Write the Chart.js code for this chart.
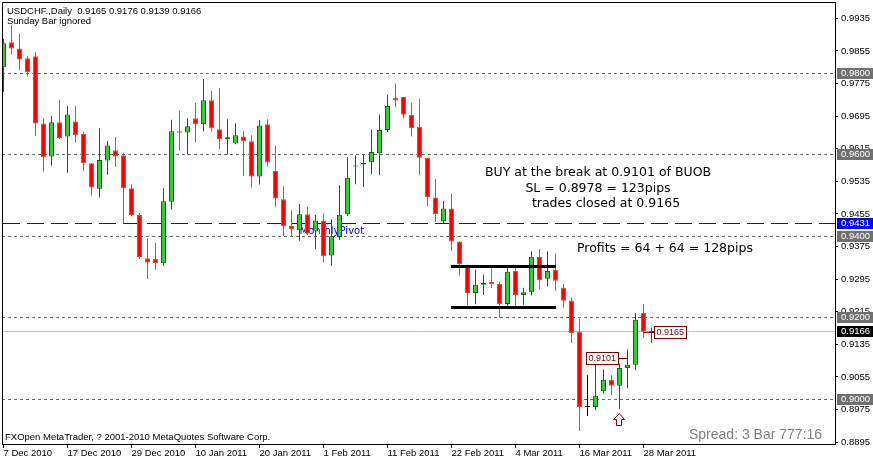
<!DOCTYPE html>
<html><head><meta charset="utf-8">
<script src="https://cdn.jsdelivr.net/npm/chart.js@4/dist/chart.umd.min.js"></script>
<style>html,body{margin:0;padding:0;background:#fff;overflow:hidden}canvas{display:block}</style>
</head><body>
<canvas id="c" width="873" height="461"></canvas>
<script>
// ---- data (USDCHF daily, 7 Dec 2010 .. 29 Mar 2011) ----
const opens  = [0.9815,0.9876,0.9861,0.9837,0.9842,0.9677,0.9596,0.9680,0.9645,0.9682,
                0.9651,0.9579,0.9517,0.9586,0.9611,0.9599,0.9518,0.9452,0.9346,0.9344,
                0.9334,0.9485,0.9658,0.9655,0.9690,0.9675,0.9734,0.9663,0.9638,0.9628,
                0.9645,0.9633,0.9547,0.9675,0.9560,0.9491,0.9425,0.9415,0.9454,0.9412,
                0.9439,0.9353,0.9398,0.9454,0.9571,0.9576,0.9582,0.9604,0.9661,0.9740,
                0.9742,0.9698,0.9669,0.9593,0.9495,0.9437,0.9468,0.9387,0.9330,0.9261,
                0.9281,0.9288,0.9283,0.9234,0.9315,0.9256,0.9263,0.9350,0.9296,0.9318,
                0.9274,0.9242,0.9166,0.8981,0.8981,0.9020,0.9048,0.9033,0.9077,0.9085,
                0.9212,0.9165];
const highs  = [0.9884,0.9919,0.9897,0.9843,0.9852,0.9690,0.9695,0.9735,0.9720,0.9720,
                0.9657,0.9580,0.9665,0.9634,0.9644,0.9605,0.9528,0.9457,0.9395,0.9384,
                0.9518,0.9686,0.9708,0.9690,0.9727,0.9786,0.9757,0.9764,0.9687,0.9677,
                0.9658,0.9648,0.9685,0.9687,0.9623,0.9523,0.9464,0.9479,0.9472,0.9452,
                0.9456,0.9442,0.9525,0.9594,0.9598,0.9602,0.9662,0.9699,0.9748,0.9775,
                0.9742,0.9728,0.9738,0.9593,0.9540,0.9487,0.9505,0.9388,0.9330,0.9318,
                0.9306,0.9321,0.9289,0.9324,0.9330,0.9274,0.9363,0.9369,0.9363,0.9358,
                0.9283,0.9250,0.9198,0.9059,0.9095,0.9073,0.9059,0.9087,0.9122,0.9212,
                0.9234,0.9176];
const lows   = [0.9755,0.9847,0.9808,0.9792,0.9647,0.9559,0.9573,0.9639,0.9556,0.9630,
                0.9560,0.9500,0.9495,0.9551,0.9570,0.9432,0.9450,0.9344,0.9295,0.9318,
                0.9328,0.9466,0.9610,0.9601,0.9630,0.9657,0.9657,0.9614,0.9601,0.9626,
                0.9548,0.9520,0.9527,0.9571,0.9471,0.9400,0.9400,0.9389,0.9403,0.9368,
                0.9336,0.9328,0.9391,0.9450,0.9528,0.9521,0.9553,0.9550,0.9656,0.9717,
                0.9690,0.9645,0.9550,0.9474,0.9435,0.9432,0.9364,0.9304,0.9230,0.9233,
                0.9256,0.9273,0.9200,0.9228,0.9222,0.9232,0.9255,0.9270,0.9277,0.9266,
                0.9225,0.9138,0.8922,0.8959,0.8974,0.9014,0.9010,0.8976,0.9027,0.9072,
                0.9151,0.9139];
const closes = [0.9874,0.9861,0.9834,0.9803,0.9677,0.9594,0.9680,0.9641,0.9699,0.9648,
                0.9579,0.9520,0.9587,0.9623,0.9596,0.9518,0.9452,0.9349,0.9336,0.9334,
                0.9486,0.9658,0.9654,0.9670,0.9675,0.9734,0.9665,0.9638,0.9643,0.9648,
                0.9633,0.9547,0.9672,0.9582,0.9493,0.9425,0.9417,0.9454,0.9407,0.9439,
                0.9351,0.9400,0.9453,0.9544,0.9574,0.9580,0.9607,0.9661,0.9720,0.9733,
                0.9698,0.9666,0.9593,0.9496,0.9455,0.9468,0.9387,0.9332,0.9261,0.9281,
                0.9286,0.9283,0.9234,0.9313,0.9256,0.9263,0.9350,0.9293,0.9315,0.9291,
                0.9242,0.9163,0.8981,0.8981,0.9009,0.9048,0.9033,0.9077,0.9085,0.9195,
                0.9166,0.9166];
const xTickIndex  = [0,8,16,24,32,40,48,56,64,72,80];
const xTickLabels = ["7 Dec 2010","17 Dec 2010","29 Dec 2010","10 Jan 2011","20 Jan 2011",
                     "1 Feb 2011","11 Feb 2011","22 Feb 2011","4 Mar 2011","16 Mar 2011","28 Mar 2011"];
const yTickValues = [0.9935,0.9855,0.9775,0.9695,0.9615,0.9535,0.9455,0.9375,0.9295,
                     0.9215,0.9135,0.9055,0.8975,0.8895];
const levelLines  = [0.9800,0.9600,0.9400,0.9200,0.9000];
const pivotLevel  = 0.9431;
const pivotLabel  = "MonthlyPivot";
const pivotLabelBar = 37;
const lastPrice   = 0.9166;
const rangeLevels = [0.9327,0.9227];
const rangeBars   = [56,69];
const entryPrice  = 0.9101, entryBar = 78;
const exitPrice   = 0.9165, exitBar = 80;
const arrowBar    = 77;
const titleLines  = ["USDCHF.,Daily  0.9165 0.9176 0.9139 0.9166","Sunday Bar ignored"];
const noteLines   = ["BUY at the break at 0.9101 of BUOB","SL = 0.8978 = 123pips","trades closed at 0.9165"];
const profitText  = "Profits = 64 + 64 = 128pips";
const footerText  = "FXOpen MetaTrader, ? 2001-2010 MetaQuotes Software Corp.";
const spreadText  = "Spread: 3 Bar 777:16";

// ---- styles ----
const BULL_BODY='#32cd32', BULL_EDGE='#007000', BEAR_BODY='#ff0000', BEAR_EDGE='#ff4500', DOJI='#000000';
const SMALL = '"Liberation Sans", Arial, sans-serif';
const BIG = '"DejaVu Sans", Verdana, sans-serif';

function dir(i){ return closes[i]>opens[i]?1:(closes[i]<opens[i]?-1:0); }
function edgeColor(i){ const d=dir(i); return d>0?BULL_EDGE:(d<0?BEAR_EDGE:DOJI); }
function fillColor(i){ const d=dir(i); return d>0?BULL_BODY:(d<0?BEAR_BODY:DOJI); }

const wickData = lows.map((l,i)=>({x:i, y:[l, highs[i]]}));
const bodyData = opens.map((o,i)=>({x:i, y:[o, closes[i]]}));

const overlay = {
  id:'overlay',
  beforeDatasetsDraw(chart){
    const {ctx, chartArea:a, scales:{x,y}} = chart;
    ctx.save();
    ctx.beginPath(); ctx.rect(a.left,a.top,a.right-a.left,a.bottom-a.top); ctx.clip();
    ctx.lineWidth=1;
    ctx.strokeStyle='#c0c0c0';
    let py=Math.floor(y.getPixelForValue(lastPrice))+0.5;
    ctx.beginPath(); ctx.moveTo(a.left,py); ctx.lineTo(a.right,py); ctx.stroke();
    ctx.strokeStyle='#6a6a6a'; ctx.setLineDash([3,3]);
    levelLines.forEach(v=>{const p=Math.floor(y.getPixelForValue(v))+0.5;
      ctx.beginPath(); ctx.moveTo(a.left,p); ctx.lineTo(a.right,p); ctx.stroke();});
    ctx.strokeStyle='#0000ff'; ctx.setLineDash([17,7]);
    py=Math.floor(y.getPixelForValue(pivotLevel))+0.5;
    ctx.beginPath(); ctx.moveTo(a.left+1,py); ctx.lineTo(a.right,py); ctx.stroke();
    ctx.setLineDash([]);
    ctx.fillStyle='#0000ff'; ctx.font='10px '+BIG; ctx.textBaseline='alphabetic'; ctx.textAlign='left';
    ctx.fillText(pivotLabel, x.getPixelForValue(pivotLabelBar), py+10);
    ctx.restore();
  },
  afterDatasetsDraw(chart){
    const {ctx, chartArea:a, scales:{x,y}} = chart;
    ctx.save();
    ctx.beginPath(); ctx.rect(a.left,a.top,a.right-a.left,a.bottom-a.top); ctx.clip();
    ctx.strokeStyle='#000'; ctx.lineWidth=3;
    rangeLevels.forEach(v=>{const p=Math.round(y.getPixelForValue(v))+0.5;
      ctx.beginPath(); ctx.moveTo(x.getPixelForValue(rangeBars[0])-0.5,p);
      ctx.lineTo(x.getPixelForValue(rangeBars[1])+0.5,p); ctx.stroke();});
    ctx.font='9px '+SMALL; ctx.textBaseline='middle'; ctx.lineWidth=1;
    function priceBox(val, bar, side){
      const cx=x.getPixelForValue(bar), py=Math.floor(y.getPixelForValue(val))+0.5;
      const txt=val.toFixed(4), w=Math.round(ctx.measureText(txt).width)+4, h=12;
      let bx = side<0 ? Math.round(cx-9.5-w)+0.5 : Math.round(cx+10.5)+0.5;
      ctx.strokeStyle='#800000';
      ctx.beginPath();
      if(side<0){ ctx.moveTo(bx+w,py); ctx.lineTo(cx,py);} else { ctx.moveTo(cx,py); ctx.lineTo(bx,py);}
      ctx.stroke();
      ctx.fillStyle='#fff'; ctx.fillRect(bx,py-6,w,h);
      ctx.strokeRect(bx,py-6,w,h);
      ctx.fillStyle='#800000'; ctx.textAlign='left'; ctx.fillText(txt,bx+2,py+0.5);
    }
    priceBox(entryPrice, entryBar, -1);
    priceBox(exitPrice, exitBar, 1);
    const ax=x.getPixelForValue(arrowBar), at=Math.round(y.getPixelForValue(lows[arrowBar]))+4.5;
    ctx.beginPath();
    ctx.moveTo(ax,at); ctx.lineTo(ax+5,at+6); ctx.lineTo(ax+2,at+6); ctx.lineTo(ax+2,at+12);
    ctx.lineTo(ax-3,at+12); ctx.lineTo(ax-3,at+6); ctx.lineTo(ax-6,at+6); ctx.closePath();
    ctx.fillStyle='#fff'; ctx.fill(); ctx.strokeStyle='#800000'; ctx.stroke();
    ctx.restore();
  },
  afterDraw(chart){
    const {ctx, chartArea:a, scales:{y}} = chart;
    ctx.save();
    ctx.strokeStyle='#000'; ctx.lineWidth=1;
    ctx.beginPath(); ctx.moveTo(a.left+0.5,a.bottom); ctx.lineTo(a.left+0.5,a.top+0.5); ctx.lineTo(a.right,a.top+0.5); ctx.stroke();
    const boxes = levelLines.map(v=>({v, bg:'#707070'}))
      .concat([{v:pivotLevel,bg:'#0000ff'},{v:lastPrice,bg:'#000000'}]);
    ctx.font='9.5px '+SMALL; ctx.textBaseline='middle'; ctx.textAlign='left';
    boxes.forEach(b=>{const p=Math.floor(y.getPixelForValue(b.v));
      ctx.fillStyle=b.bg; ctx.fillRect(a.right+2,p-5,36,11);
      ctx.fillStyle='#fff'; ctx.fillText(b.v.toFixed(4), a.right+6, p+0.5);});
    ctx.fillStyle='#000'; ctx.textBaseline='alphabetic';
    ctx.font='9.5px '+SMALL;
    ctx.fillText(titleLines[0], 7, 14);
    ctx.fillText(titleLines[1], 7, 24);
    ctx.fillText(footerText, 5, 440);
    ctx.font='12.5px '+BIG; ctx.textAlign='center';
    ctx.fillText(noteLines[0], 598, 176);
    ctx.fillText(noteLines[1], 598, 192);
    ctx.fillText(noteLines[2], 606, 207);
    ctx.textAlign='left';
    ctx.fillText(profitText, 577, 252);
    ctx.fillStyle='#808080'; ctx.font='14px '+SMALL;
    ctx.fillText(spreadText, 689, 439);
    ctx.restore();
  }
};

new Chart(document.getElementById('c'), {
  type:'bar',
  data:{ datasets:[
    { label:'wick', data:wickData, order:2, grouped:false, barThickness:1, borderWidth:0,
      inflateAmount:0, backgroundColor:c=>edgeColor(c.dataIndex) },
    { label:'body', data:bodyData, order:1, grouped:false, barThickness:5, borderWidth:1,
      borderSkipped:false, inflateAmount:0, minBarLength:1,
      backgroundColor:c=>fillColor(c.dataIndex), borderColor:c=>edgeColor(c.dataIndex) }
  ]},
  options:{
    responsive:false, animation:false, devicePixelRatio:1,
    layout:{ padding:{left:2, top:2, right:0, bottom:0} },
    plugins:{ legend:{display:false}, tooltip:{enabled:false} },
    scales:{
      x:{ type:'linear', position:'bottom', min:-0.1875, max:103.9375, offset:false,
          afterBuildTicks:s=>{ s.ticks = xTickIndex.map(v=>({value:v})); },
          afterFit:s=>{ s.height=17; s.paddingLeft=0; s.paddingRight=0; },
          ticks:{ autoSkip:false, maxRotation:0, minRotation:0, align:'start', padding:0,
                  color:'#000', font:{family:SMALL, size:9.5},
                  callback:v=>xTickLabels[xTickIndex.indexOf(v)] },
          grid:{ display:true, drawOnChartArea:false, drawTicks:true, tickLength:4, color:'#000', offset:false },
          border:{ display:true, color:'#000', width:1 } },
      y:{ type:'linear', position:'right', min:0.88903, max:0.9975, beginAtZero:false,
          afterBuildTicks:s=>{ s.ticks = yTickValues.map(v=>({value:v})); },
          afterFit:s=>{ s.width=38; s.paddingTop=0; s.paddingBottom=0; },
          ticks:{ padding:3, color:'#000', font:{family:SMALL, size:9.5}, callback:v=>v.toFixed(4) },
          grid:{ display:true, drawOnChartArea:false, drawTicks:true, tickLength:3, color:'#000' },
          border:{ display:true, color:'#000', width:1 } }
    }
  },
  plugins:[overlay]
});
</script>
</body></html>
